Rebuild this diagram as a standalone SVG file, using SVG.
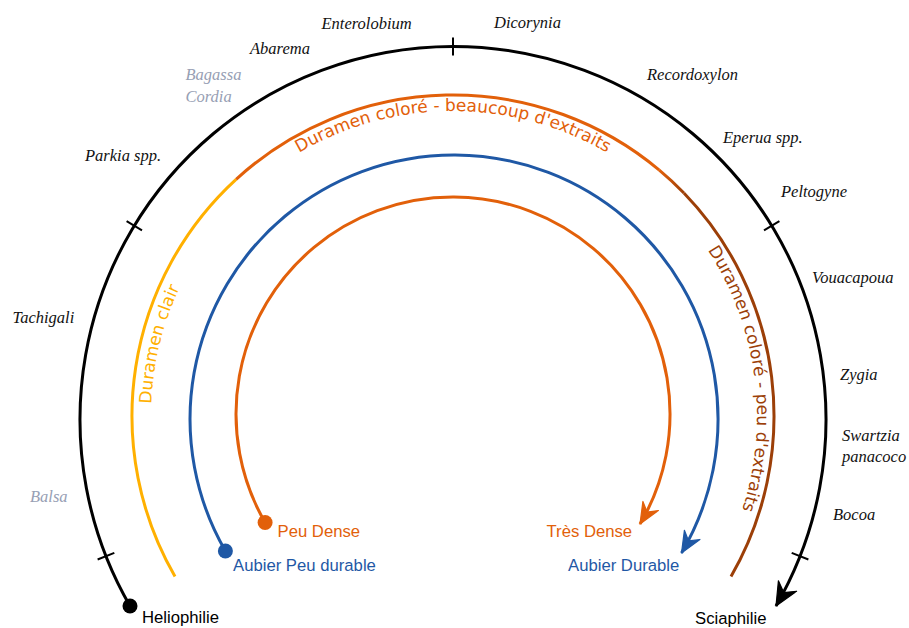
<svg xmlns="http://www.w3.org/2000/svg" width="909" height="628" viewBox="0 0 909 628">
  <style>
    .arc { fill: none; stroke-width: 3; stroke-linecap: butt; }
    .tick { stroke: #000; stroke-width: 2; }
    .genus { font-family: "Liberation Serif", "Times New Roman", serif; font-style: italic; font-size: 16.5px; fill: #111; }
    .genus.grey { fill: #97A0B4; }
    .lbl { font-family: "Liberation Sans", Arial, sans-serif; font-size: 16.7px; }
    .arctext { font-family: "DejaVu Sans", Verdana, sans-serif; font-size: 17px; }
  </style>
  <defs>
    <marker id="arrBlack" markerUnits="userSpaceOnUse" markerWidth="28" markerHeight="26" viewBox="-26 -13 28 26" refX="0" refY="0" orient="auto">
      <path d="M 0 0 L -23 -10.5 L -15.5 0 L -23 10.5 Z" fill="#000" stroke="#000" stroke-width="1.2" stroke-linejoin="round"/>
    </marker>
    <marker id="arrBlue" markerUnits="userSpaceOnUse" markerWidth="28" markerHeight="26" viewBox="-26 -13 28 26" refX="0" refY="0" orient="auto">
      <path d="M 0 0 L -21 -9 L -14 0 L -21 9 Z" fill="#1F58A5" stroke="#1F58A5" stroke-width="1.2" stroke-linejoin="round"/>
    </marker>
    <marker id="arrOrange" markerUnits="userSpaceOnUse" markerWidth="28" markerHeight="26" viewBox="-26 -13 28 26" refX="0" refY="0" orient="auto">
      <path d="M 0 0 L -21 -9 L -14 0 L -21 9 Z" fill="#E2600A" stroke="#E2600A" stroke-width="1.2" stroke-linejoin="round"/>
    </marker>
    <linearGradient id="gOB" gradientUnits="userSpaceOnUse" x1="659.3" y1="170.1" x2="683.9" y2="193.0">
      <stop offset="0" stop-color="#E2600A"/>
      <stop offset="1" stop-color="#9C3F08"/>
    </linearGradient>
    <path id="pTop" d="M 148 416 A 305 305 0 0 1 758 416"/>
    <path id="pLeft" d="M 191.5 567 A 302 302 0 0 1 453 114"/>
    <path id="pRight" d="M 453 112 A 304 304 0 0 1 716.3 568"/>
  </defs>

  <g id="connectors">
    <path id="axis-light" class="arc" stroke="#000" d="M 130 606 A 373 373 0 1 1 776 606" marker-end="url(#arrBlack)"/>
    <g id="ticks">
      <line class="tick" x1="142.0" y1="230.4" x2="126.6" y2="221.1"/>
      <line class="tick" x1="453" y1="55.5" x2="453" y2="37.5"/>
      <line class="tick" x1="764.0" y1="230.4" x2="779.4" y2="221.1"/>
      <line class="tick" x1="114.3" y1="552.9" x2="97.6" y2="559.5"/>
      <line class="tick" x1="791.7" y1="552.9" x2="808.4" y2="559.5"/>
    </g>
    <path class="arc" stroke="#FFB000" d="M 175.0 576.5 A 321 321 0 0 1 236.1 179.3"/>
    <path class="arc" stroke="#E2600A" d="M 236.1 179.3 A 321 321 0 0 1 659.3 170.1"/>
    <path class="arc" stroke="url(#gOB)" d="M 659.3 170.1 A 321 321 0 0 1 683.9 193.0"/>
    <path class="arc" stroke="#9C3F08" d="M 683.9 193.0 A 321 321 0 0 1 731.0 576.5"/>
    <path class="arc" stroke="#1F58A5" d="M 225.4 551 A 264 264 0 1 1 681.5 553" marker-end="url(#arrBlue)"/>
    <path class="arc" stroke="#E2600A" d="M 265.1 522.5 A 217 217 0 1 1 640.0 524.1" marker-end="url(#arrOrange)"/>
  </g>

  <g id="arc-labels">
    <text class="arctext" fill="#E2600A"><textPath href="#pTop" startOffset="50%" text-anchor="middle">Duramen coloré - beaucoup d'extraits</textPath></text>
    <text class="arctext" fill="#FFB000"><textPath href="#pLeft" startOffset="170">Duramen clair</textPath></text>
    <text class="arctext" fill="#9C3F08"><textPath href="#pRight" startOffset="302">Duramen coloré - peu d'extraits</textPath></text>
  </g>

  <g id="node-heliophilie">
    <circle cx="130" cy="606" r="7.5" fill="#000"/>
    <text class="lbl" x="142" y="623" fill="#000">Heliophilie</text>
  </g>
  <g id="node-sciaphilie">
    <text class="lbl" x="695" y="624" fill="#000">Sciaphilie</text>
  </g>
  <g id="node-aubier-peu-durable">
    <circle cx="225.4" cy="551" r="7.5" fill="#1F58A5"/>
    <text class="lbl" x="233" y="571" fill="#1F58A5">Aubier Peu durable</text>
  </g>
  <g id="node-aubier-durable">
    <text class="lbl" x="568" y="571" fill="#1F58A5">Aubier Durable</text>
  </g>
  <g id="node-peu-dense">
    <circle cx="265.1" cy="522.5" r="7.5" fill="#E2600A"/>
    <text class="lbl" x="277.5" y="536.5" fill="#E2600A">Peu Dense</text>
  </g>
  <g id="node-tres-dense">
    <text class="lbl" x="546.5" y="536.5" fill="#E2600A">Très Dense</text>
  </g>

  <g id="genera">
    <text class="genus" x="321.5" y="29">Enterolobium</text>
    <text class="genus" x="494" y="28">Dicorynia</text>
    <text class="genus" x="250" y="54">Abarema</text>
    <text class="genus grey" x="185.5" y="80">Bagassa</text>
    <text class="genus grey" x="185.5" y="102">Cordia</text>
    <text class="genus" x="85" y="161">Parkia spp.</text>
    <text class="genus" x="647" y="80">Recordoxylon</text>
    <text class="genus" x="723" y="143">Eperua spp.</text>
    <text class="genus" x="781" y="197">Peltogyne</text>
    <text class="genus" x="12.5" y="323">Tachigali</text>
    <text class="genus" x="812" y="283">Vouacapoua</text>
    <text class="genus" x="840" y="380">Zygia</text>
    <text class="genus" x="842" y="441">Swartzia</text>
    <text class="genus" x="842" y="462">panacoco</text>
    <text class="genus" x="833" y="520">Bocoa</text>
    <text class="genus grey" x="30" y="502">Balsa</text>
  </g>
</svg>
